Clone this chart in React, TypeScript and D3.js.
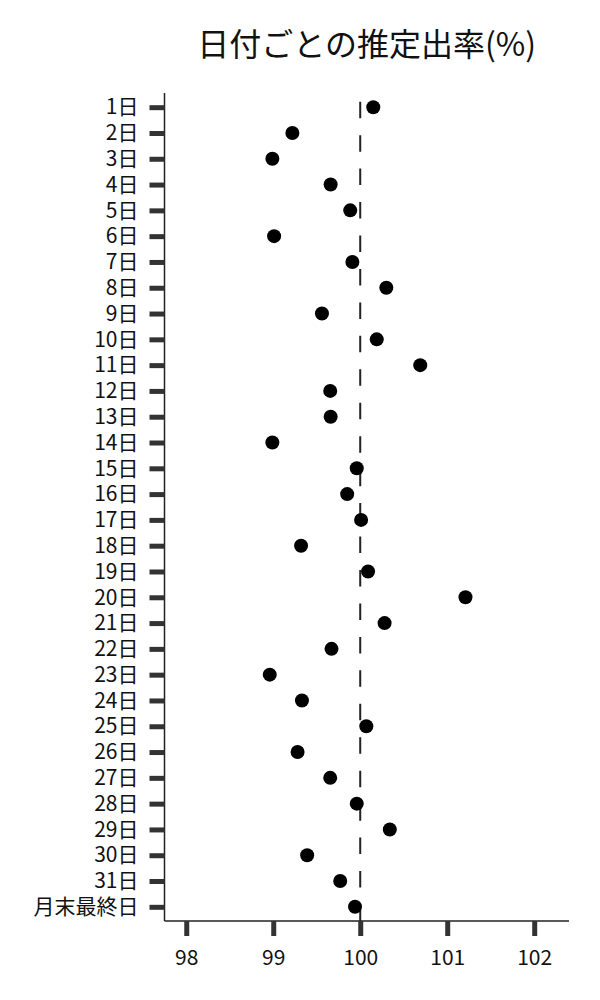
import React, { useRef, useEffect } from 'react';
import * as d3 from 'd3';

const days = [
  '1日', '2日', '3日', '4日', '5日', '6日', '7日', '8日', '9日', '10日',
  '11日', '12日', '13日', '14日', '15日', '16日', '17日', '18日', '19日', '20日',
  '21日', '22日', '23日', '24日', '25日', '26日', '27日', '28日', '29日', '30日',
  '31日', '月末最終日',
];
const rates = [
  100.15, 99.22, 98.99, 99.66, 99.885, 99.01, 99.91, 100.3, 99.56, 100.19,
  100.69, 99.655, 99.66, 98.99, 99.96, 99.85, 100.01, 99.32, 100.09, 101.21,
  100.28, 99.67, 98.96, 99.33, 100.07, 99.28, 99.655, 99.96, 100.34, 99.39,
  99.77, 99.94,
];
const xTicks = [98, 99, 100, 101, 102];
const refValue = 100;

const FONT = '"Noto Sans CJK JP", "Noto Sans", sans-serif';

export default function App() {
  const svgRef = useRef<SVGSVGElement>(null);

  useEffect(() => {
    document.body.style.margin = '0';
    const svg = d3.select(svgRef.current);
    svg.selectAll('*').remove();
    if (!svgRef.current) return;

    const width = 600;
    const height = 1000;
    const margin = { top: 93, right: 31, bottom: 79, left: 164.5 };
    const w = width - margin.left - margin.right;
    const h = height - margin.top - margin.bottom;

    const g = svg.append('g').attr('transform', `translate(${margin.left},${margin.top})`);

    const x = d3.scaleLinear().domain([97.75, 102.4]).range([0, w]);
    const y = d3.scalePoint<string>().domain(days).range([0, h]).padding(0.55);

    // Title
    svg.append('text')
      .attr('x', margin.left + w / 2).attr('y', 56)
      .attr('text-anchor', 'middle')
      .attr('font-family', FONT).attr('font-size', 32).attr('fill', '#111')
      .text('日付ごとの推定出率(%)');

    // Reference line (drawn bottom to top so the dash pattern starts at the axis)
    g.append('line')
      .attr('x1', x(refValue)).attr('x2', x(refValue))
      .attr('y1', h).attr('y2', 0)
      .attr('stroke', '#222').attr('stroke-width', 2)
      .attr('stroke-dasharray', '16.5,16.95');

    // Y axis
    const yAxis = g.append('g').call(
      d3.axisLeft(y).tickSize(15).tickPadding(11).tickSizeOuter(0)
    );
    yAxis.select('.domain').attr('stroke', '#222').attr('stroke-width', 1.5)
      .attr('d', `M0,0V${h}`);
    yAxis.selectAll('.tick line').attr('stroke', '#333').attr('stroke-width', 5);
    yAxis.selectAll('.tick text')
      .attr('font-family', FONT).attr('font-size', 21).attr('fill', '#111');

    // X axis
    const xAxis = g.append('g').attr('transform', `translate(0,${h})`).call(
      d3.axisBottom(x).tickValues(xTicks).tickFormat(d3.format('d')).tickSize(15).tickPadding(14)
    );
    xAxis.select('.domain').attr('stroke', '#222').attr('stroke-width', 1.5)
      .attr('d', `M0,0H${w}`);
    xAxis.selectAll('.tick line').attr('stroke', '#333').attr('stroke-width', 5);
    xAxis.selectAll('.tick text')
      .attr('font-family', FONT).attr('font-size', 21).attr('fill', '#111');

    // Points
    g.selectAll('.pt').data(rates).enter()
      .append('circle')
      .attr('cx', (d) => x(d))
      .attr('cy', (_, i) => y(days[i]) ?? 0)
      .attr('r', 7)
      .attr('fill', '#000');
  }, []);

  return <svg ref={svgRef} width={600} height={1000} style={{ display: 'block', background: '#fff' }} />;
}
